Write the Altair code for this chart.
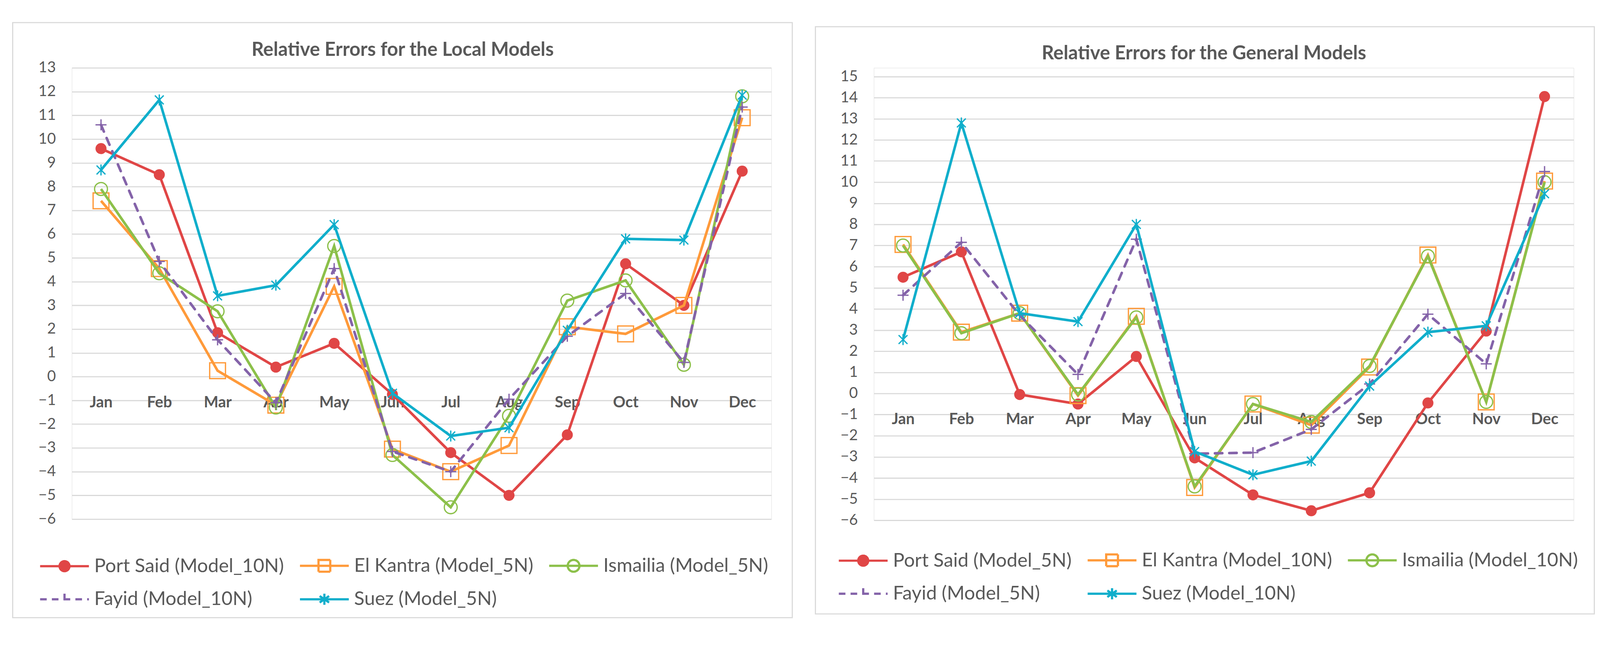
import altair as alt
import pandas as pd

months = ["Jan", "Feb", "Mar", "Apr", "May", "Jun", "Jul", "Aug", "Sep", "Oct", "Nov", "Dec"]

# ---- Local models ----
local_title = "Relative Errors for the Local Models"
local_series = ["Port Said (Model_10N)", "El Kantra (Model_5N)", "Ismailia (Model_5N)",
                "Fayid (Model_10N)", "Suez (Model_5N)"]
local_port_said = [9.6, 8.5, 1.85, 0.4, 1.4, -0.75, -3.2, -5.0, -2.45, 4.75, 3.0, 8.65]
local_el_kantra = [7.4, 4.55, 0.25, -1.2, 3.8, -3.05, -4.0, -2.9, 2.1, 1.8, 3.0, 10.9]
local_ismailia = [7.9, 4.35, 2.75, -1.3, 5.5, -3.3, -5.5, -1.65, 3.2, 4.05, 0.5, 11.8]
local_fayid = [10.6, 4.85, 1.55, -1.1, 4.55, -3.15, -4.0, -0.95, 1.7, 3.5, 0.6, 11.35]
local_suez = [8.7, 11.65, 3.4, 3.85, 6.4, -0.7, -2.5, -2.15, 1.95, 5.8, 5.75, 11.85]

# ---- General models ----
general_title = "Relative Errors for the General Models"
general_series = ["Port Said (Model_5N)", "El Kantra (Model_10N)", "Ismailia (Model_10N)",
                  "Fayid (Model_5N)", "Suez (Model_10N)"]
general_port_said = [5.5, 6.7, -0.05, -0.5, 1.75, -3.05, -4.8, -5.55, -4.7, -0.45, 2.95, 14.05]
general_el_kantra = [7.05, 2.9, 3.8, -0.1, 3.65, -4.45, -0.5, -1.5, 1.25, 6.55, -0.4, 10.05]
general_ismailia = [7.0, 2.85, 3.8, -0.05, 3.6, -4.4, -0.5, -1.35, 1.3, 6.5, -0.4, 10.0]
general_fayid = [4.65, 7.15, 3.7, 0.9, 7.3, -2.85, -2.8, -1.7, 0.45, 3.75, 1.4, 10.5]
general_suez = [2.55, 12.8, 3.8, 3.4, 8.0, -2.75, -3.85, -3.2, 0.35, 2.9, 3.2, 9.45]

# ---- styles ----
COLORS = ["#E04646", "#FF9A3A", "#8CC04A", "#8463A9", "#10AECB"]
GRID = "#D9D9D9"
TEXT = "#595959"
FONT = "Lato"


def circle_path(r):
    return f"M{r},0A{r},{r} 0 1,1 {-r},0A{r},{r} 0 1,1 {r},0Z"


PLUS = "M-1,0H1M0,-1V1"
STAR = "M0,-1V1M-0.8,-0.8L0.8,0.8M-0.8,0.8L0.8,-0.8"
marker_shapes = ["circle", "square", "circle", PLUS, STAR]
marker_sizes = [900, 1849, 1225, 900, 900]
marker_filled = [True, False, False, False, False]

LINE = "M-4.15,0H4.15"
legend_paths = [
    LINE + circle_path(0.85) + circle_path(0.5) + circle_path(0.2),
    LINE + "M-1,-1H1V1H-1Z",
    LINE + circle_path(1.0),
    LINE + "M0,-0.95V0.95",
    LINE + "M0,-0.95V0.95M-0.8,-0.55L0.8,0.55M-0.8,0.55L0.8,-0.55",
]
legend_dashes = [[1, 0], [1, 0], [1, 0], [18, 14], [1, 0]]


def panel(series, values_list, ymin, ymax, W, Hplot, top_off, frame, title_text,
          title_xy, legend_xy, col_pad):
    rows = []
    for s, vals in zip(series, values_list):
        for i, (m, v) in enumerate(zip(months, vals)):
            rows.append({"month": m, "idx": i, "series": s, "value": v})
    df = pd.DataFrame(rows)
    H = Hplot + top_off
    zero_y = top_off + ymax / (ymax - ymin) * Hplot

    x_enc = alt.X("month:N", sort=months,
                  scale=alt.Scale(type="point", domain=months, padding=0.5),
                  axis=alt.Axis(orient="bottom", offset=-(H - zero_y), domain=False,
                                ticks=False, grid=False, labelAngle=0, labelFont=FONT,
                                labelFontSize=42, labelFontWeight="bold",
                                labelColor=TEXT, labelPadding=50, title=None))
    y_enc = alt.Y("value:Q",
                  scale=alt.Scale(domain=[ymin, ymax], nice=False, zero=False,
                                  range=[H, top_off]),
                  axis=alt.Axis(values=list(range(ymin, ymax + 1)), grid=True,
                                gridColor=GRID, gridWidth=3, domain=False, ticks=False,
                                labelFont=FONT, labelFontSize=41, labelColor=TEXT,
                                labelPadding=44, title=None))

    deco_df = pd.DataFrame({"title": [title_text]})
    frame_layer = alt.Chart(deco_df).mark_rect(
        filled=False, stroke=GRID, strokeWidth=3).encode(
        x=alt.value(frame[0]), x2=alt.value(frame[1]),
        y=alt.value(frame[2]), y2=alt.value(frame[3]))
    title_layer = alt.Chart(deco_df).mark_text(
        font=FONT, fontSize=52, fontWeight="bold", color=TEXT,
        align="center", baseline="middle").encode(
        text="title:N", x=alt.value(title_xy[0]), y=alt.value(title_xy[1]))

    layers = [frame_layer, title_layer]
    base = alt.Chart(df)
    for k, s in enumerate(series):
        sub = base.transform_filter(alt.datum.series == s)
        lk = dict(color=COLORS[k], strokeWidth=7)
        if k == 3:
            lk.update(strokeDash=[20, 19], strokeCap="round")
        layers.append(sub.mark_line(**lk).encode(x=x_enc, y=y_enc, order="idx:Q"))
        layers.append(sub.mark_point(shape=marker_shapes[k], size=marker_sizes[k],
                                     filled=marker_filled[k], color=COLORS[k],
                                     strokeWidth=3.5, opacity=1).encode(x=x_enc, y=y_enc))

    leg = alt.Legend(title=None, orient="none", legendX=legend_xy[0], legendY=legend_xy[1],
                     columns=3, direction="horizontal", gridAlign="each",
                     columnPadding=col_pad, rowPadding=35, symbolSize=1024,
                     symbolStrokeWidth=6, symbolOffset=40, labelOffset=55,
                     labelFont=FONT, labelFontSize=52, labelColor=TEXT,
                     labelLimit=2000, padding=0)
    legend_layer = base.transform_filter("datum.value > 1000000").mark_point(
        size=1024, filled=False, strokeWidth=6, opacity=1).encode(
        color=alt.Color("series:N", scale=alt.Scale(domain=series, range=COLORS), legend=leg),
        shape=alt.Shape("series:N", scale=alt.Scale(domain=series, range=legend_paths), legend=leg),
        strokeDash=alt.StrokeDash("series:N", scale=alt.Scale(domain=series, range=legend_dashes),
                                  legend=leg),
    )
    layers.append(legend_layer)
    return alt.layer(*layers).properties(width=W, height=H)


left = panel(local_series,
             [local_port_said, local_el_kantra, local_ismailia, local_fayid, local_suez],
             -6, 13, 1903, 1228, 0,
             frame=(-161, 1960, -123, 1496),
             title_text=local_title, title_xy=(900, -49),
             legend_xy=(-86, 1329), col_pad=30)

right = panel(general_series,
              [general_port_said, general_el_kantra, general_ismailia, general_fayid,
               general_suez],
              -6, 15, 1904, 1207.5, 23.5,
              frame=(-159, 1960, -112, 1486),
              title_text=general_title, title_xy=(898, -39),
              legend_xy=(-95, 1314), col_pad=30)

chart = alt.hconcat(left, right, spacing=59).resolve_scale(
    color="independent", shape="independent", strokeDash="independent"
).properties(
    padding={"left": 24, "top": 0, "right": 5, "bottom": 5},
    background="white",
).configure_view(stroke=None).configure(font=FONT)

chart.save("out.html", embed_options={"renderer": "svg", "actions": False})
